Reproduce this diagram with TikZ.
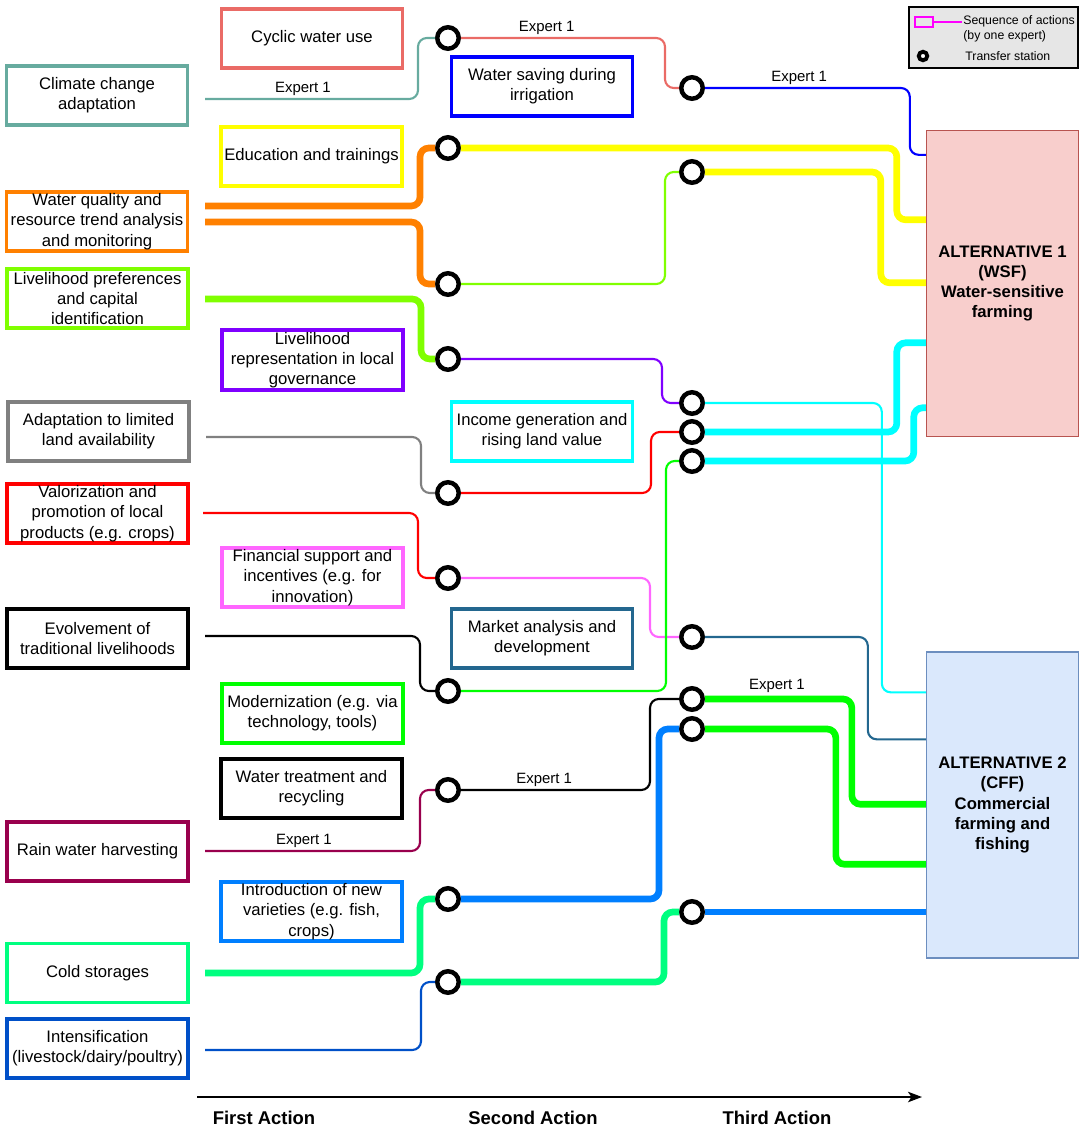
\documentclass[tikz,border=0pt]{standalone}
\usepackage{fontspec}
\setmainfont{Liberation Sans}
\usetikzlibrary{positioning,calc,arrows.meta}

\definecolor{cteal}{HTML}{67AB9F}
\definecolor{corange}{HTML}{FF8000}
\definecolor{clime}{HTML}{80FF00}
\definecolor{cgray}{HTML}{808080}
\definecolor{cred}{HTML}{FF0000}
\definecolor{ccrimson}{HTML}{99004D}
\definecolor{cspring}{HTML}{00FF80}
\definecolor{cintens}{HTML}{0050C8}
\definecolor{csalmon}{HTML}{EA6B66}
\definecolor{cyellow}{HTML}{FFFF00}
\definecolor{cpurple}{HTML}{7F00FF}
\definecolor{cpink}{HTML}{FF66FF}
\definecolor{cgreen}{HTML}{00FF00}
\definecolor{cazure}{HTML}{007FFF}
\definecolor{cblue}{HTML}{0000FF}
\definecolor{ccyan}{HTML}{00FFFF}
\definecolor{cmarket}{HTML}{23678F}
\definecolor{cwsf}{HTML}{F8CECC}
\definecolor{cwsfline}{HTML}{B85450}
\definecolor{ccff}{HTML}{DAE8FC}
\definecolor{ccffline}{HTML}{6C8EBF}
\definecolor{clegend}{HTML}{E6E6E6}
\definecolor{cmagenta}{HTML}{FF00FF}

\begin{document}
\begin{tikzpicture}[x=0.02cm,y=-0.02cm]

    \tikzstyle{action}=[draw,line width=2.2pt,minimum width=3.62cm,minimum height=1.18cm,align=center,inner sep=1pt,font=\fontsize{9.5}{11.5}\selectfont]
    \tikzstyle{alternative}=[draw,line width=0.8pt,minimum width=3.04cm,minimum height=6.12cm,align=center,font=\bfseries\fontsize{9.5}{11.5}\selectfont]
    \tikzstyle{station}=[circle,draw=black,fill=white,line width=2.55pt,minimum size=0.43cm,inner sep=0pt]
    \tikzstyle{route}=[line width=1.2pt,rounded corners=5pt]
    \tikzstyle{heavy}=[line width=3.8pt,rounded corners=5pt]
    \tikzstyle{expert}=[above,text=black,inner sep=1.5pt,font=\fontsize{8.5}{10}\selectfont]
    \tikzstyle{legtext}=[inner sep=0pt,font=\fontsize{7}{8.5}\selectfont]
    \tikzstyle{axislabel}=[font=\bfseries\fontsize{10.5}{12}\selectfont]

\useasboundingbox (0,0) rectangle (1084,1129);

% first action
\node (F_1) [action,draw=cteal]    at (97,95.5)   {Climate change\\adaptation};
\node (F_2) [action,draw=corange]  at (97,221.5)  {Water quality and\\resource trend analysis\\and monitoring};
\node (F_3) [action,draw=clime]    at (97.5,298.5) {Livelihood preferences\\and capital\\identification};
\node (F_4) [action,draw=cgray]    at (98.5,431.5) {Adaptation to limited\\land availability};
\node (F_5) [action,draw=cred]     at (97.5,513.5) {Valorization and\\promotion of local\\products (e.g. crops)};
\node (F_6) [action,draw=black]    at (97.5,638.5) {Evolvement of\\traditional livelihoods};
\node (F_7) [action,draw=ccrimson] at (97.5,851.5) {Rain water harvesting};
\node (F_8) [action,draw=cspring]  at (97.5,973)   {Cold storages};
\node (F_9) [action,draw=cintens]  at (97.5,1048.5) {Intensification\\(livestock/dairy/poultry)};

% second action
\node (N_1) [action,draw=csalmon] at (312,38.5)   {Cyclic water use};
\node (N_2) [action,draw=cyellow] at (311.5,156.5) {Education and trainings};
\node (N_3) [action,draw=cpurple] at (312.5,360)  {Livelihood\\representation in local\\governance};
\node (N_4) [action,draw=cpink]   at (312.5,577.5) {Financial support and\\incentives (e.g. for\\innovation)};
\node (N_5) [action,draw=cgreen]  at (312.5,713.5) {Modernization (e.g. via\\technology, tools)};
\node (N_6) [action,draw=black]   at (311.5,788.5) {Water treatment and\\recycling};
\node (N_7) [action,draw=cazure]  at (311.5,911.5) {Introduction of new\\varieties (e.g. fish,\\crops)};

% third action
\node (D_1) [action,draw=cblue]   at (542,86.5)  {Water saving during\\irrigation};
\node (D_2) [action,draw=ccyan]   at (542,431.5) {Income generation and\\rising land value};
\node (D_3) [action,draw=cmarket] at (542,638.5) {Market analysis and\\development};

% alternatives
\node (Alt_1) [alternative,fill=cwsf,draw=cwsfline] at (1002.5,283.5) {ALTERNATIVE 1\\(WSF)\\Water-sensitive\\farming};
\node (Alt_2) [alternative,fill=ccff,draw=ccffline] at (1002.5,805) {ALTERNATIVE 2\\(CFF)\\Commercial\\farming and\\fishing};

\coordinate (A1_1) at ([yshift=-0.5cm]Alt_1.north west);
\coordinate (A1_2) at ([yshift=-1.8cm]Alt_1.north west);
\coordinate (A1_3) at ([yshift=-3.06cm]Alt_1.north west);
\coordinate (A1_4) at ([yshift=-4.26cm]Alt_1.north west);
\coordinate (A1_5) at ([yshift=-5.56cm]Alt_1.north west);
\coordinate (A2_1) at ([yshift=-0.82cm]Alt_2.north west);
\coordinate (A2_2) at ([yshift=-1.76cm]Alt_2.north west);
\coordinate (A2_3) at ([yshift=-3.06cm]Alt_2.north west);
\coordinate (A2_4) at ([yshift=-4.26cm]Alt_2.north west);

% transfer stations
\node (S_1)  [station] at (448,38)  {};
\node (S_2)  [station] at (448,148) {};
\node (S_3)  [station] at (448,284) {};
\node (S_4)  [station] at (448,359) {};
\node (S_5)  [station] at (448,493) {};
\node (S_6)  [station] at (448,578) {};
\node (S_7)  [station] at (448,691) {};
\node (S_8)  [station] at (448,790) {};
\node (S_9)  [station] at (448,899) {};
\node (S_10) [station] at (448,982) {};

\node (T_1) [station] at (692,88)  {};
\node (T_2) [station] at (692,172) {};
\node (T_3) [station] at (692,403) {};
\node (T_4) [station] at (692,432) {};
\node (T_5) [station] at (692,461) {};
\node (T_6) [station] at (692,637) {};
\node (T_7) [station] at (692,699) {};
\node (T_8) [station] at (692,729) {};
\node (T_9) [station] at (692,912) {};

\coordinate (F_1o) at (205,99);
\coordinate (F_2a) at (205,206);
\coordinate (F_2b) at (205,222);
\coordinate (F_3o) at (205,299);
\coordinate (F_4o) at (206,437);
\coordinate (F_5o) at (203,513);
\coordinate (F_6o) at (205,636);
\coordinate (F_7o) at (205,851);
\coordinate (F_8o) at (205,973);
\coordinate (F_9o) at (205,1050);

% first -> second
\draw[route,cteal] (F_1o) -| node[expert,pos=0.23]{Expert 1} ([xshift=-0.6cm]S_1.center) -- (S_1);
\draw[heavy,corange] (F_2a) -| ([xshift=-0.56cm]S_2.center) -- (S_2);
\draw[heavy,corange] (F_2b) -| ([xshift=-0.56cm]S_3.center) -- (S_3);
\draw[heavy,clime] (F_3o) -| ([xshift=-0.54cm]S_4.center) -- (S_4);
\draw[route,cgray] (F_4o) -| ([xshift=-0.54cm]S_5.center) -- (S_5);
\draw[route,cred] (F_5o) -| ([xshift=-0.6cm]S_6.center) -- (S_6);
\draw[route,black] (F_6o) -| ([xshift=-0.56cm]S_7.center) -- (S_7);
\draw[route,ccrimson] (F_7o) -| node[expert,pos=0.23]{Expert 1} ([xshift=-0.56cm]S_8.center) -- (S_8);
\draw[heavy,cspring] (F_8o) -| ([xshift=-0.56cm]S_9.center) -- (S_9);
\draw[route,cintens] (F_9o) -| ([xshift=-0.54cm]S_10.center) -- (S_10);

% second -> third
\draw[route,csalmon] (S_1) -| node[expert,pos=0.21]{Expert 1} ([xshift=-0.54cm]T_1.center) -- (T_1);
\draw[route,clime] (S_3) -| ([xshift=-0.54cm]T_2.center) -- (T_2);
\draw[route,cpurple] (S_4) -| ([xshift=-0.6cm]T_3.center) -- (T_3);
\draw[route,cred] (S_5) -| ([xshift=-0.82cm]T_4.center) -- (T_4);
\draw[route,cpink] (S_6) -| ([xshift=-0.84cm]T_6.center) -- (T_6);
\draw[route,cgreen] (S_7) -| ([xshift=-0.52cm]T_5.center) -- (T_5);
\draw[route,black] (S_8) -| node[expert,pos=0.22]{Expert 1} ([xshift=-0.84cm]T_7.center) -- (T_7);
\draw[heavy,cazure] (S_9) -| ([xshift=-0.66cm]T_8.center) -- (T_8);
\draw[heavy,cspring] (S_10) -| ([xshift=-0.56cm]T_9.center) -- (T_9);

% -> alternatives
\draw[route,cblue] (T_1) -| node[expert,pos=0.23]{Expert 1} ([xshift=-0.32cm]A1_1) -- (A1_1);
\draw[heavy,cyellow] (S_2) -| ([xshift=-0.58cm]A1_2) -- (A1_2);
\draw[heavy,cyellow] (T_2) -| ([xshift=-0.9cm]A1_3) -- (A1_3);
\draw[heavy,ccyan] (T_4) -| ([xshift=-0.58cm]A1_4) -- (A1_4);
\draw[heavy,ccyan] (T_5) -| ([xshift=-0.24cm]A1_5) -- (A1_5);
\draw[route,ccyan] (T_3) -| ([xshift=-0.88cm]A2_1) -- (A2_1);
\draw[route,cmarket] (T_6) -| ([xshift=-1.16cm]A2_2) -- (A2_2);
\draw[heavy,cgreen] (T_7) -| node[expert,pos=0.245]{Expert 1} ([xshift=-1.48cm]A2_3) -- (A2_3);
\draw[heavy,cgreen] (T_8) -| ([xshift=-1.8cm]A2_4) -- (A2_4);
\draw[heavy,cazure] (T_9) -- (T_9 -| Alt_2.west);

% legend
\node (legend) [draw=black,fill=clegend,line width=0.7pt,minimum width=3.38cm,minimum height=1.22cm] at (993.5,37.5) {};
\node (leg_seq) [draw=cmagenta,fill=clegend,line width=1.2pt,minimum width=0.36cm,minimum height=0.2cm,inner sep=0pt] at (924,22) {};
\coordinate (leg_end) at (962,22);
\draw[cmagenta,line width=1.3pt] (leg_seq) -- (leg_end);
\node (leg_txt1) [legtext,anchor=west,align=left] at (963,28.5) {Sequence of actions\\(by one expert)};
\node (leg_st) [station,minimum size=0.17cm,line width=2.2pt] at (923,56) {};
\node (leg_txt2) [legtext,anchor=west] at (965,56) {Transfer station};

% time axis
\coordinate (ax_start) at (197,1097);
\coordinate (ax_end) at (922,1097);
\draw[line width=0.8pt,-{Stealth[length=8pt,width=6pt,inset=2pt]}] (ax_start) -- (ax_end);
\node (first) [axislabel] at (264,1118) {First Action};
\node (second) [axislabel] at (533,1118) {Second Action};
\node (third) [axislabel] at (777,1118) {Third Action};

\end{tikzpicture}
\end{document}
